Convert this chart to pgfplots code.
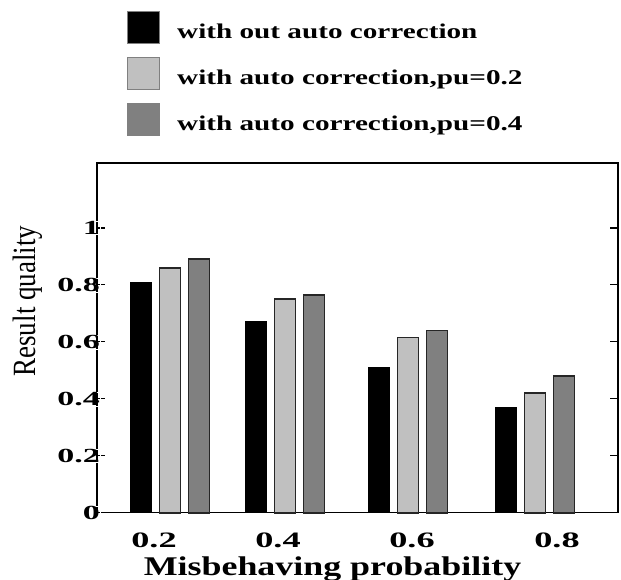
\documentclass[border=0pt]{standalone}
\usepackage{graphicx}
\usepackage{pgfplots}
\pgfplotsset{compat=1.18}
\usepackage{fontspec}
\setmainfont{Liberation Serif}
\newcommand\xt[1]{\scalebox{1.65}[1]{#1}}
\newcommand\yt[1]{\scalebox{1.7}[1]{#1}}
\newcommand\lgt[1]{\scalebox{1.39}[1]{#1}}
\definecolor{lightbar}{HTML}{C0C0C0}
\definecolor{darkbar}{HTML}{808080}
\definecolor{edge}{HTML}{262626}
\pgfplotstableread{
x    a     b      c
170  0.81  0.86   0.89
285  0.67  0.75   0.765
408  0.51  0.615  0.64
535  0.37  0.42   0.48
}\datatable
\begin{document}
\begin{tikzpicture}
\begin{axis}[
  at={(97bp,67.3bp)}, anchor=south west,
  scale only axis, width=521bp, height=349.7bp,
  xmin=97, xmax=618, ymin=0, ymax=1.228,
  axis line style={line width=1.3bp, black},
  xtick={154,278,412,557}, xticklabels={\xt{0.2},\xt{0.4},\xt{0.6},\xt{0.8}},
  xtick style={draw=none},
  ytick={0,0.2,0.4,0.6,0.8,1},
  yticklabels={\yt{0},\yt{0.2},\yt{0.4},\yt{0.6},\yt{0.8},\yt{1}},
  ytick pos=both, xtick pos=bottom, tick align=inside,
  major tick length=8bp,
  ytick style={line width=1.2bp, black},
  xticklabel style={font=\bfseries\fontsize{22bp}{24bp}\selectfont, inner sep=0pt, anchor=north, yshift=-20bp},
  yticklabel style={font=\bfseries\fontsize{20bp}{22bp}\selectfont, inner sep=0pt, anchor=east, xshift=3bp, draw=white, line width=0.1bp},
  xlabel={\scalebox{1.33}[1]{Misbehaving probability}},
  xlabel style={font=\bfseries\fontsize{27bp}{29bp}\selectfont, at={(rel axis cs:0.452,0)}, anchor=base, yshift=-63bp, inner sep=0pt},
  ylabel={\scalebox{1}[1.2]{Result quality}},
  ylabel style={font=\fontsize{27bp}{29bp}\selectfont, at={(rel axis cs:-0.133,0.605)}, anchor=center, rotate=0, inner sep=0pt},
  legend style={at={(rel axis cs:0.0576,1.435)}, anchor=north west, draw=none, fill=none,
    inner sep=0pt, outer sep=0pt, row sep=13bp, column sep=17bp,
    font=\bfseries\fontsize{21bp}{23bp}\selectfont, nodes={inner sep=0pt}},
  legend cell align=left,
  clip=false,
]
\addplot[ybar, bar width=21, bar shift=-29, fill=black, draw=black, line width=1bp,
  legend image code/.code={\draw[fill=black, draw=gray, line width=1.2bp] (0bp,-12bp) rectangle (32bp,20bp);}]
  table[x=x, y=a] {\datatable};
\addlegendentry{\lgt{with out auto correction}}
\addplot[ybar, bar width=21, bar shift=0, fill=lightbar, draw=edge, line width=1.8bp,
  legend image code/.code={\draw[fill=lightbar, draw=gray, line width=1.2bp] (0bp,-12bp) rectangle (32bp,20bp);}]
  table[x=x, y=b] {\datatable};
\addlegendentry{\lgt{with auto correction,pu=0.2}}
\addplot[ybar, bar width=21, bar shift=29, fill=darkbar, draw=edge, line width=1.8bp,
  legend image code/.code={\draw[fill=darkbar, draw=darkbar, line width=1.2bp] (0bp,-12bp) rectangle (32bp,20bp);}]
  table[x=x, y=c] {\datatable};
\addlegendentry{\lgt{with auto correction,pu=0.4}}
\end{axis}
\pgfresetboundingbox
\path (0bp,0bp) rectangle (621bp,580bp);
\end{tikzpicture}
\end{document}
